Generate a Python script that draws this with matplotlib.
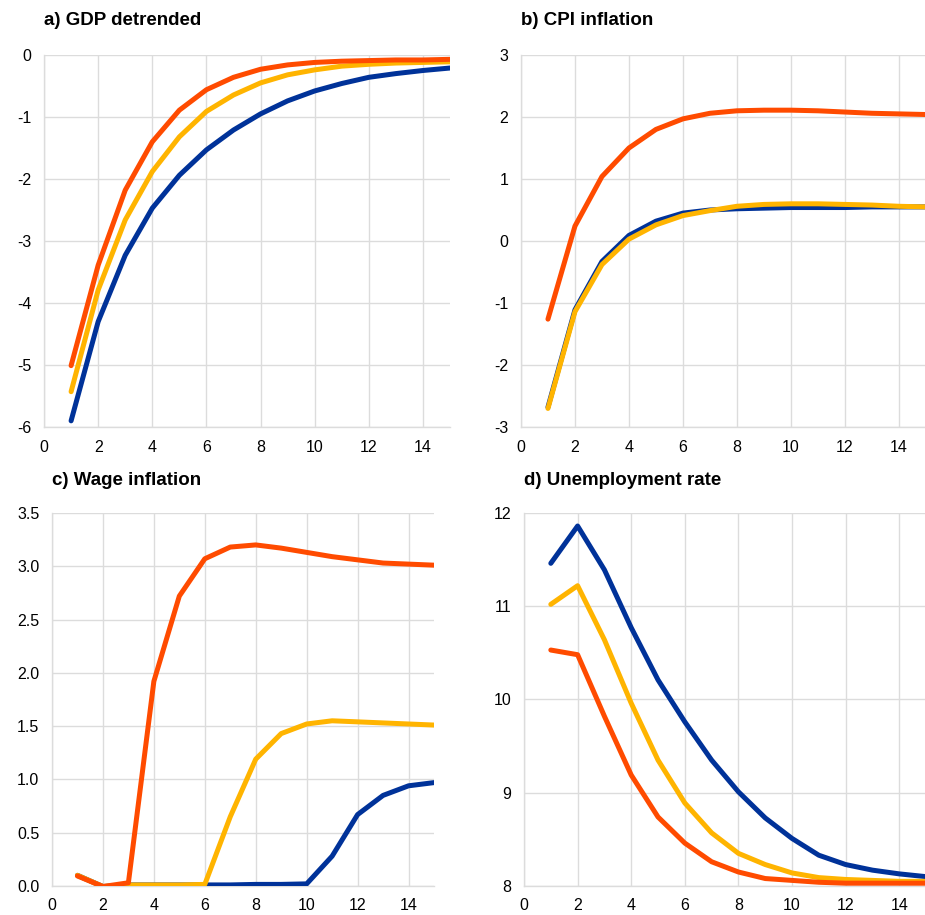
import matplotlib
matplotlib.use("Agg")
import matplotlib.pyplot as plt
import numpy as np

plt.rcParams['font.family'] = ['Liberation Sans', 'DejaVu Sans']

BLUE = "#003299"
YELLOW = "#FFB400"
RED = "#FF4B00"
GRID = "#dcdcdc"

quarters = np.arange(1, 16)

# a) GDP detrended
gdp_blue = [-5.90, -4.30, -3.23, -2.47, -1.94, -1.53, -1.21, -0.95, -0.74, -0.58, -0.46, -0.36, -0.30, -0.25, -0.21]
gdp_yellow = [-5.43, -3.79, -2.66, -1.88, -1.32, -0.91, -0.645, -0.45, -0.32, -0.24, -0.18, -0.15, -0.13, -0.12, -0.11]
gdp_red = [-5.01, -3.39, -2.18, -1.40, -0.89, -0.56, -0.36, -0.23, -0.16, -0.12, -0.10, -0.09, -0.08, -0.08, -0.07]

# b) CPI inflation
cpi_blue = [-2.68, -1.11, -0.33, 0.09, 0.32, 0.45, 0.50, 0.52, 0.53, 0.54, 0.54, 0.54, 0.55, 0.55, 0.55]
cpi_yellow = [-2.70, -1.14, -0.38, 0.03, 0.26, 0.41, 0.49, 0.56, 0.59, 0.60, 0.60, 0.59, 0.58, 0.56, 0.55]
cpi_red = [-1.26, 0.24, 1.04, 1.50, 1.80, 1.97, 2.06, 2.10, 2.11, 2.11, 2.10, 2.08, 2.06, 2.05, 2.04]

# c) Wage inflation
wage_blue = [0.10, -0.005, 0.01, 0.01, 0.01, 0.01, 0.01, 0.015, 0.015, 0.02, 0.28, 0.67, 0.85, 0.94, 0.97]
wage_yellow = [0.10, -0.005, 0.01, 0.01, 0.01, 0.015, 0.65, 1.19, 1.43, 1.52, 1.55, 1.54, 1.53, 1.52, 1.51]
wage_red = [0.094, -0.005, 0.03, 1.92, 2.72, 3.07, 3.18, 3.20, 3.17, 3.13, 3.09, 3.06, 3.03, 3.02, 3.01]

# d) Unemployment rate
unemp_blue = [11.46, 11.86, 11.39, 10.77, 10.21, 9.76, 9.35, 9.01, 8.73, 8.51, 8.33, 8.23, 8.17, 8.13, 8.10]
unemp_yellow = [11.02, 11.22, 10.64, 9.96, 9.35, 8.89, 8.57, 8.35, 8.23, 8.14, 8.09, 8.07, 8.06, 8.05, 8.05]
unemp_red = [10.53, 10.48, 9.82, 9.19, 8.74, 8.46, 8.26, 8.15, 8.08, 8.06, 8.04, 8.03, 8.03, 8.03, 8.03]

panels = [
    ("a) GDP detrended", [0.0476, 0.5333, 0.4389, 0.4066], (0.0476, 0.978),
     gdp_blue, gdp_yellow, gdp_red, (-6, 0), np.arange(-6, 1, 1), "{:.0f}"),
    ("b) CPI inflation", [0.5632, 0.5333, 0.4378, 0.4066], (0.5632, 0.978),
     cpi_blue, cpi_yellow, cpi_red, (-3, 3), np.arange(-3, 4, 1), "{:.0f}"),
    ("c) Wage inflation", [0.0562, 0.0317, 0.4130, 0.4077], (0.0562, 0.4754),
     wage_blue, wage_yellow, wage_red, (0, 3.5), np.arange(0, 3.6, 0.5), "{:.1f}"),
    ("d) Unemployment rate", [0.5665, 0.0317, 0.4346, 0.4077], (0.5665, 0.4754),
     unemp_blue, unemp_yellow, unemp_red, (8, 12), np.arange(8, 13, 1), "{:.0f}"),
]

fig = plt.figure(figsize=(9.25, 9.15), dpi=100)

for title, rect, tpos, blue, yellow, red, ylim, yticks, fmt in panels:
    ax = fig.add_axes(rect)
    ax.plot(quarters, blue, color=BLUE, lw=3.6, solid_capstyle="round", zorder=3)
    ax.plot(quarters, yellow, color=YELLOW, lw=3.6, solid_capstyle="round", zorder=4)
    ax.plot(quarters, red, color=RED, lw=3.6, solid_capstyle="round", zorder=5)
    ax.set_xlim(0, 15)
    ax.set_ylim(*ylim)
    ax.set_xticks(np.arange(0, 15, 2))
    ax.set_yticks(yticks)
    ax.set_yticklabels([fmt.format(v) for v in yticks])
    ax.grid(True, color=GRID, lw=1.0, zorder=0)
    ax.set_axisbelow(True)
    for side in ["top", "right"]:
        ax.spines[side].set_visible(False)
    for side in ["left", "bottom"]:
        ax.spines[side].set_color(GRID)
        ax.spines[side].set_linewidth(1.0)
    ax.tick_params(length=0, labelsize=11.5, pad=9, labelcolor="black")
    ax.patch.set_alpha(0)
    fig.text(tpos[0], tpos[1], title, fontsize=13.5, fontweight="bold", ha="left", va="center")

plt.savefig("out.png", dpi=100)
